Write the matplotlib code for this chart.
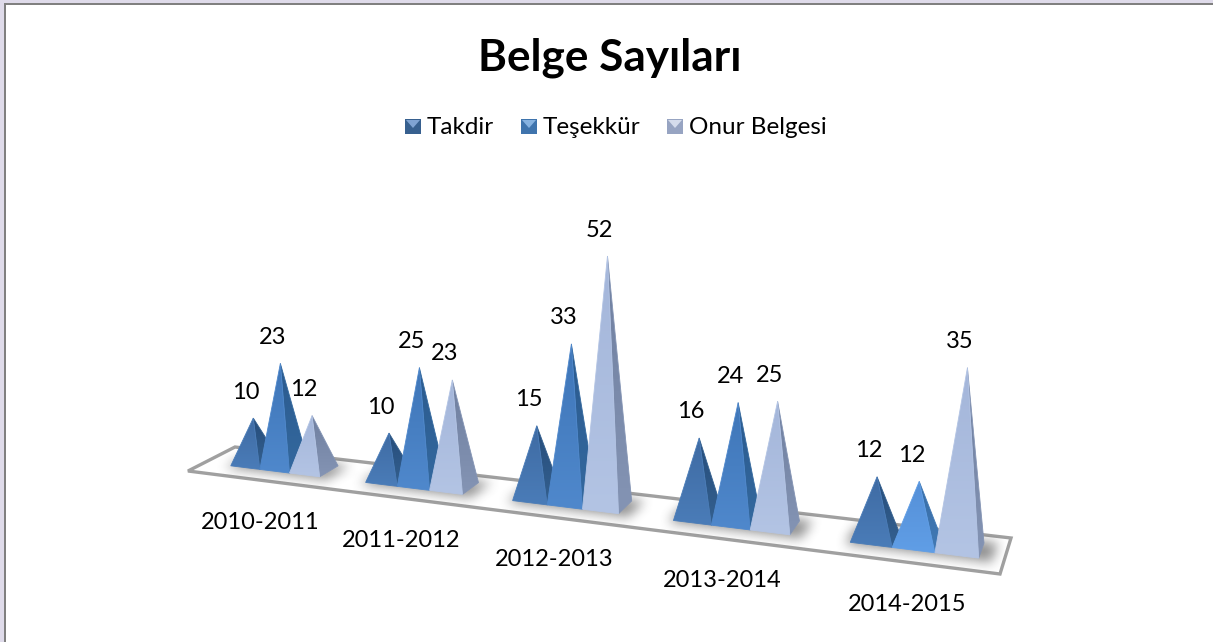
import numpy as np
from matplotlib import pyplot as plt
from matplotlib.patches import Polygon, Rectangle
from matplotlib.path import Path

plt.rcParams['font.family'] = ['Lato', 'DejaVu Sans']

categories = ['2010-2011', '2011-2012', '2012-2013', '2013-2014', '2014-2015']
series_names = ['Takdir', 'Teşekkür', 'Onur Belgesi']
takdir = [10, 10, 15, 16, 12]
tesekkur = [23, 25, 33, 24, 12]
onur = [12, 23, 52, 25, 35]

W, H = 1213, 642

# floor corners in pixels: left front, right front, right back, left back
FLOOR = np.array([[188, 471], [1000, 574], [1011, 538], [235, 447]], dtype=float)
START = 0.205     # where the first pyramid of a category begins
WIDTH = 0.223     # width of one pyramid, in categories
DEPTH = (0.34, 0.77)
VALUE_SCALE = 4.47
FACE_COLORS = [
    (('#3f6ba3', '#4a7cb8'), ('#264d7c', '#34608f')),
    (('#3f76b8', '#4f88cc'), ('#2b5a8e', '#34699f')),
    (('#a4b6da', '#b3c4e4'), ('#6f7f9f', '#8494b4')),
]


def homography(corners):
    square = [(0, 0), (1, 0), (1, 1), (0, 1)]
    rows, rhs = [], []
    for (u, v), (x, y) in zip(square, corners):
        rows.append([u, v, 1, 0, 0, 0, -u * x, -v * x])
        rows.append([0, 0, 0, u, v, 1, -u * y, -v * y])
        rhs += [x, y]
    h = np.linalg.solve(np.array(rows), np.array(rhs))
    return np.append(h, 1).reshape(3, 3)


HOM = homography(FLOOR)


def project(u, d):
    p = HOM @ np.array([u / len(categories), d, 1.0])
    return p[:2] / p[2], p[2]


def gradient_face(ax, verts, top, bottom):
    verts = np.array(verts)
    poly = Polygon(verts, closed=True, transform=ax.transData, fc='none', ec='none')
    ax.add_patch(poly)
    c0, c1 = [np.array(plt.matplotlib.colors.to_rgb(c)) for c in (top, bottom)]
    t = np.linspace(0, 1, 64)[:, None, None]
    img = c0[None, None, :] * (1 - t) + c1[None, None, :] * t
    x0, x1 = verts[:, 0].min(), verts[:, 0].max()
    y0, y1 = verts[:, 1].min(), verts[:, 1].max()
    im = ax.imshow(img, extent=(x0, x1, y1, y0), aspect='auto', zorder=3, interpolation='bilinear')
    im.set_clip_path(poly)
    ax.add_patch(Polygon(verts, closed=True, fc='none', ec=bottom, lw=0.6, zorder=3))


def pyramid(ax, g, s, value, colors):
    u0 = g + START + s * WIDTH
    u1 = u0 + WIDTH
    fl, _ = project(u0, DEPTH[0])
    fr, _ = project(u1, DEPTH[0])
    br, _ = project(u1, DEPTH[1])
    centre, w = project((u0 + u1) / 2, sum(DEPTH) / 2)
    height = value * VALUE_SCALE / w ** 0.75
    lean = height * (centre[0] - 600) * 0.00012
    apex = np.array([centre[0] + lean, centre[1] - height])
    gradient_face(ax, [fr, br, apex], colors[1][0], colors[1][1])
    gradient_face(ax, [fl, fr, apex], colors[0][0], colors[0][1])
    return apex


def floor_shadow(ax):
    # soft shadow under each group, cut off at the floor edge
    yy, xx = np.mgrid[0:H, 0:W]
    points = np.column_stack([xx.ravel() + 0.5, yy.ravel() + 0.5])
    mask = np.zeros((H, W))
    for g in range(len(categories)):
        left = g + START - 0.02
        right = g + START + 3 * WIDTH + 0.07
        quad = [project(left, 0.27)[0], project(right, 0.27)[0],
                project(right, 0.82)[0], project(left, 0.82)[0]]
        mask += Path(quad).contains_points(points).reshape(H, W)
    kernel = np.ones(13) / 13
    for _ in range(2):
        mask = np.apply_along_axis(np.convolve, 0, mask, kernel, mode='same')
        mask = np.apply_along_axis(np.convolve, 1, mask, kernel, mode='same')
    rgba = np.zeros((H, W, 4))
    rgba[..., :3] = 0.3
    rgba[..., 3] = np.clip(mask, 0, 1) * 0.6
    im = ax.imshow(rgba, extent=(0, W, H, 0), aspect='auto', zorder=2)
    clip = Polygon(FLOOR, closed=True, transform=ax.transData, fc='none', ec='none')
    ax.add_patch(clip)
    im.set_clip_path(clip)


def legend_key(ax, x, y, c_dark, c_light):
    ax.add_patch(Rectangle((x, y), 16, 15, fc=c_dark, ec='none', zorder=3))
    ax.add_patch(Polygon([(x + 1, y + 1), (x + 15, y + 1), (x + 8, y + 9)], fc=c_light, ec='none', zorder=4))


def main():
    fig = plt.figure(figsize=(W / 100, H / 100), dpi=100)
    ax = fig.add_axes([0, 0, 1, 1])

    ax.add_patch(Polygon(FLOOR, closed=True, fc='white', ec='#a0a0a0', lw=2.4, zorder=1, joinstyle='miter'))
    floor_shadow(ax)

    for g in range(len(categories)):
        for s, values in enumerate([takdir, tesekkur, onur]):
            colors = FACE_COLORS[s]
            if g == 4 and s == 1:
                colors = (('#5590d8', '#609ee6'), ('#386ea8', '#4279b4'))
            apex = pyramid(ax, g, s, values[g], colors)
            ax.text(apex[0] - 8, apex[1] - 26, str(values[g]), ha='center', va='center',
                    fontsize=17, color='black', zorder=5)
        pos, _ = project(g + 0.5, 0)
        ax.text(pos[0] + 7, pos[1] + 43, categories[g], ha='center', va='center',
                fontsize=17, color='black', zorder=5)

    ax.text(610, 58, 'Belge Sayıları', ha='center', va='center', fontsize=31.8,
            fontweight='bold', color='black')

    key_x = [405, 521, 667]
    key_colors = [('#37608f', '#7fa3d2'), ('#3f74ad', '#86b2e0'), ('#97a4c2', '#d5dcec')]
    for x, name, (dark, light) in zip(key_x, series_names, key_colors):
        legend_key(ax, x, 119, dark, light)
        ax.text(x + 22, 127, name, ha='left', va='center', fontsize=17.5, color='black')

    # lavender page edge and chart frame
    ax.add_patch(Rectangle((0, 0), 4, H, fc='#dfdbea', ec='none', zorder=6))
    ax.add_patch(Rectangle((0, 0), W, 3, fc='#dfdbea', ec='none', zorder=6))
    ax.add_patch(Rectangle((4, 3), 2, H, fc='#808080', ec='none', zorder=6))
    ax.add_patch(Rectangle((4, 3), W, 1.5, fc='#808080', ec='none', zorder=6))

    ax.set_xlim(0, W)
    ax.set_ylim(H, 0)
    ax.axis('off')
    fig.savefig('out.png', dpi=100, facecolor='white')


if __name__ == '__main__':
    main()
